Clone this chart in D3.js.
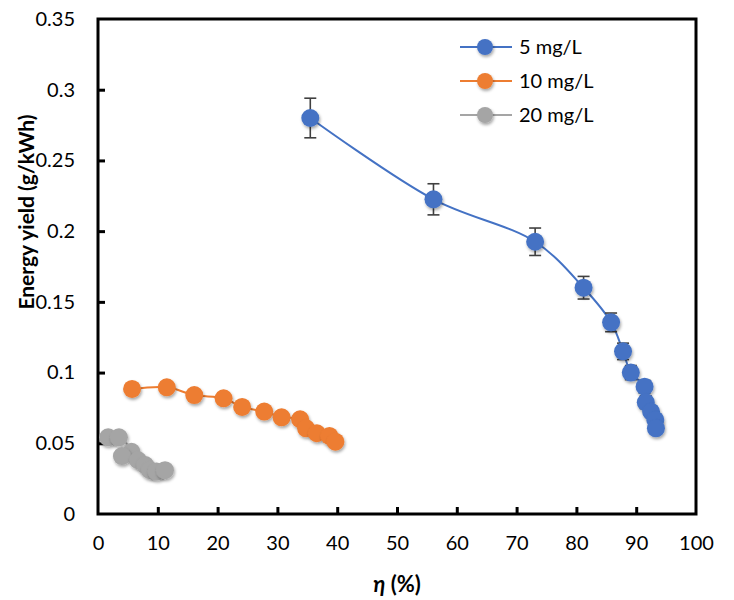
<!DOCTYPE html>
<html>
<head>
<meta charset="utf-8">
<script src="https://cdn.jsdelivr.net/npm/d3@7"></script>
<style>
  body { margin: 0; background: #fff; }
  text { font-family: Lato, "Open Sans", sans-serif; fill: #000; }
  .axis path, .axis line { stroke: #000; stroke-width: 3; }
  .axis text { font-size: 20px; }
</style>
</head>
<body>
<div id="chart"></div>
<script>
// series names
var seriesNames = ["5 mg/L", "10 mg/L", "20 mg/L"];
var seriesColors = ["#4472C4", "#ED7D31", "#A5A5A5"];

// 5 mg/L
var eta5 = [35.5, 56.1, 73.1, 81.2, 85.8, 87.8, 89.1, 91.4, 91.6, 92.5, 93.2, 93.3];
var yield5 = [0.280, 0.2225, 0.1925, 0.160, 0.1355, 0.115, 0.100, 0.090, 0.079, 0.0723, 0.0665, 0.0606];
var err5 = [0.014, 0.011, 0.0097, 0.008, 0.0066, 0.0058, 0.005, 0.0045, 0.0045, 0.004, 0.004, 0.004];

// 10 mg/L
var eta10 = [5.7, 11.5, 16.1, 21.0, 24.1, 27.8, 30.7, 33.8, 34.8, 36.6, 38.7, 39.7];
var yield10 = [0.0884, 0.0896, 0.0841, 0.0818, 0.0757, 0.0724, 0.0684, 0.0670, 0.0606, 0.0571, 0.0552, 0.0511];

// 20 mg/L
var eta20 = [1.7, 3.5, 5.6, 4.0, 6.7, 7.9, 8.7, 9.8, 11.2];
var yield20 = [0.0542, 0.0542, 0.044, 0.041, 0.038, 0.0346, 0.031, 0.030, 0.031];

var xTicks = [0, 10, 20, 30, 40, 50, 60, 70, 80, 90, 100];
var yTicks = [0, 0.05, 0.1, 0.15, 0.2, 0.25, 0.3, 0.35];

var margin = {top: 19, right: 38, bottom: 86, left: 98},
    width = 734 - margin.left - margin.right,
    height = 600 - margin.top - margin.bottom;

var svg = d3.select("#chart").append("svg")
    .attr("width", 734)
    .attr("height", 600);

var defs = svg.append("defs");
var shadow = defs.append("filter").attr("id", "shadow")
    .attr("x", "-50%").attr("y", "-50%").attr("width", "200%").attr("height", "200%");
shadow.append("feDropShadow")
    .attr("dx", 1).attr("dy", 2).attr("stdDeviation", 1.5)
    .attr("flood-color", "#000").attr("flood-opacity", 0.35);

var g = svg.append("g")
    .attr("transform", "translate(" + margin.left + "," + margin.top + ")");

var x = d3.scaleLinear().domain([0, 100]).range([0, width]);
var y = d3.scaleLinear().domain([0, 0.35]).range([height, 0]);

// frame
g.append("rect")
    .attr("width", width).attr("height", height)
    .attr("fill", "none").attr("stroke", "#000").attr("stroke-width", 3);

// axes with inward ticks
var xAxis = g.append("g")
    .attr("class", "axis")
    .attr("transform", "translate(0," + height + ")")
    .call(d3.axisBottom(x).tickValues(xTicks).tickSizeInner(-7).tickSizeOuter(0).tickPadding(22));
var yAxis = g.append("g")
    .attr("class", "axis")
    .call(d3.axisLeft(y).tickValues(yTicks).tickSizeInner(-7).tickSizeOuter(0).tickPadding(23)
      .tickFormat(function(d) { return d3.format("")(+d.toFixed(2)); }));
xAxis.select(".domain").remove();
yAxis.select(".domain").remove();
xAxis.selectAll(".tick line").filter(function(d) { return d === 0 || d === 100; }).remove();
yAxis.selectAll(".tick line").filter(function(d) { return d === 0 || d === 0.35; }).remove();

function pts(xs, ys) {
  return xs.map(function(v, i) { return {x: v, y: ys[i]}; });
}
var series = [pts(eta5, yield5), pts(eta10, yield10), pts(eta20, yield20)];

var line = d3.line()
    .x(function(d) { return x(d.x); })
    .y(function(d) { return y(d.y); })
    .curve(d3.curveCatmullRom.alpha(0.5));

// draw back to front: gray, orange, blue
[2, 1, 0].forEach(function(s) {
  g.append("path")
    .attr("d", line(series[s]))
    .attr("fill", "none")
    .attr("stroke", seriesColors[s])
    .attr("stroke-width", 2);
});

// error bars for 5 mg/L
var eb = g.append("g").attr("stroke", "#404040").attr("stroke-width", 1.6);
series[0].forEach(function(d, i) {
  var x0 = x(d.x), y1 = y(d.y + err5[i]), y2 = y(d.y - err5[i]);
  eb.append("line").attr("x1", x0).attr("x2", x0).attr("y1", y1).attr("y2", y2);
  eb.append("line").attr("x1", x0 - 6).attr("x2", x0 + 6).attr("y1", y1).attr("y2", y1);
  eb.append("line").attr("x1", x0 - 6).attr("x2", x0 + 6).attr("y1", y2).attr("y2", y2);
});

[2, 1, 0].forEach(function(s) {
  g.append("g").selectAll("circle")
    .data(series[s])
    .enter().append("circle")
      .attr("cx", function(d) { return x(d.x); })
      .attr("cy", function(d) { return y(d.y); })
      .attr("r", 9)
      .attr("fill", seriesColors[s])
      .attr("filter", "url(#shadow)");
});

// legend
var legend = g.append("g").attr("transform", "translate(" + (460 - margin.left) + "," + (47 - margin.top) + ")");
seriesNames.forEach(function(name, i) {
  var row = legend.append("g").attr("transform", "translate(0," + (i * 34) + ")");
  row.append("line").attr("x1", 0).attr("x2", 52).attr("y1", 0).attr("y2", 0)
    .attr("stroke", seriesColors[i]).attr("stroke-width", 2);
  row.append("circle").attr("cx", 25).attr("cy", 0).attr("r", 8)
    .attr("fill", seriesColors[i]).attr("filter", "url(#shadow)");
  row.append("text").attr("x", 59).attr("y", 0).attr("dy", "0.35em")
    .style("font-size", "20px").text(name);
});

// axis titles
svg.append("text")
    .attr("x", margin.left + width / 2).attr("y", 592)
    .attr("text-anchor", "middle")
    .style("font-size", "22px").style("font-weight", "bold")
    .html('<tspan font-style="italic">η</tspan> (%)');

svg.append("text")
    .attr("transform", "translate(34,212) rotate(-90)")
    .attr("text-anchor", "middle")
    .style("font-size", "21px").style("font-weight", "bold")
    .text("Energy yield (g/kWh)");
</script>
</body>
</html>
